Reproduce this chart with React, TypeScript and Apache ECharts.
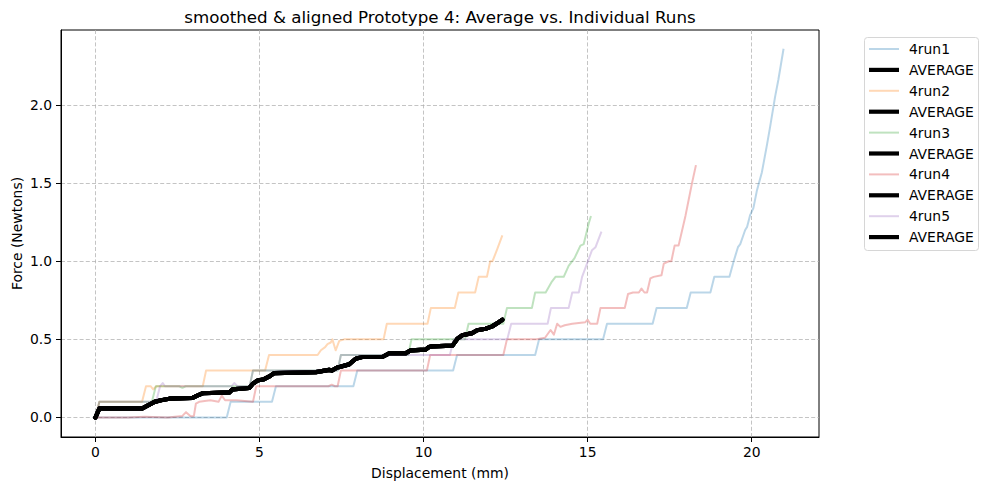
import { useEffect, useRef } from "react";
import * as echarts from "echarts";

type Pt = [number, number];

const chartTitle = "smoothed & aligned Prototype 4: Average vs. Individual Runs";
const xAxisTitle = "Displacement (mm)";
const yAxisTitle = "Force (Newtons)";

const runNames = ["4run1", "4run2", "4run3", "4run4", "4run5"];
const runColors = ["#1f77b4", "#ff7f0e", "#2ca02c", "#d62728", "#9467bd"];
const averageName = "AVERAGE";

const xTicks = [0, 5, 10, 15, 20];
const yTicks = [0, 0.5, 1.0, 1.5, 2.0];

// displacement (mm), force (N) for each run after smoothing and alignment
const run1: Pt[] = [
  [0, 0], [4.0, 0], [4.12, 0.1], [5.38, 0.1], [5.5, 0.2], [7.86, 0.2], [7.98, 0.3],
  [10.9, 0.3], [11.02, 0.4], [13.4, 0.4], [13.52, 0.5], [15.47, 0.5], [15.59, 0.6],
  [16.98, 0.6], [17.1, 0.7], [18.02, 0.7], [18.14, 0.8], [18.74, 0.8], [18.86, 0.9],
  [19.32, 0.9], [19.45, 1.0], [19.58, 1.09], [19.65, 1.11], [19.8, 1.2], [19.86, 1.22],
  [19.95, 1.295], [20.05, 1.34], [20.16, 1.455], [20.31, 1.57], [20.46, 1.74],
  [20.56, 1.86], [20.71, 2.05], [20.81, 2.16], [20.97, 2.36],
];

const run2: Pt[] = [
  [0, 0], [0.12, 0.1], [1.42, 0.1], [1.54, 0.2], [1.68, 0.2], [1.76, 0.18], [1.86, 0.2],
  [3.27, 0.2], [3.37, 0.3], [5.17, 0.3], [5.29, 0.4], [6.77, 0.4], [6.87, 0.43],
  [7.0, 0.45], [7.07, 0.47], [7.17, 0.48], [7.22, 0.5], [7.32, 0.43], [7.43, 0.49],
  [7.58, 0.5], [8.78, 0.5], [8.88, 0.6], [10.12, 0.6], [10.22, 0.7], [10.95, 0.7],
  [11.06, 0.8], [11.57, 0.8], [11.68, 0.9], [11.93, 0.9], [12.03, 1.0], [12.1, 1.0],
  [12.25, 1.08], [12.4, 1.165],
];

const run3: Pt[] = [
  [0, 0], [0.12, 0.1], [1.72, 0.1], [1.84, 0.2], [2.55, 0.2], [2.65, 0.19], [2.75, 0.2],
  [4.7, 0.2], [4.8, 0.3], [7.38, 0.3], [7.48, 0.4], [9.53, 0.4], [9.63, 0.5],
  [11.26, 0.5], [11.37, 0.6], [12.43, 0.6], [12.54, 0.7], [13.3, 0.7], [13.4, 0.8],
  [13.72, 0.8], [13.91, 0.87], [14.02, 0.9], [14.27, 0.9], [14.42, 0.97], [14.6, 1.02],
  [14.78, 1.1], [14.88, 1.11], [15.03, 1.24], [15.1, 1.29],
];

const run4: Pt[] = [
  [0, 0], [1.0, 0], [1.5, 0.005], [2.2, 0], [2.65, 0.01], [2.76, 0.034], [2.9, 0.008],
  [3.0, 0.01], [3.06, 0.088], [3.16, 0.1], [3.5, 0.11], [3.75, 0.1], [3.85, 0.14],
  [3.95, 0.11], [4.3, 0.11], [4.8, 0.1], [4.9, 0.2], [7.1, 0.2], [7.2, 0.21],
  [7.3, 0.2], [7.38, 0.2], [7.48, 0.3], [10.1, 0.3], [10.2, 0.4], [12.43, 0.4],
  [12.54, 0.5], [13.45, 0.5], [13.7, 0.51], [13.87, 0.56], [13.97, 0.53], [14.07, 0.6],
  [14.17, 0.58], [14.3, 0.59], [14.53, 0.6], [14.93, 0.61], [15.0, 0.625], [15.08, 0.6],
  [15.29, 0.6], [15.39, 0.7], [16.13, 0.7], [16.23, 0.79], [16.38, 0.8], [16.56, 0.8],
  [16.64, 0.825], [16.73, 0.8], [16.81, 0.8], [16.91, 0.89], [17.01, 0.9], [17.25, 0.91],
  [17.32, 0.985], [17.47, 1.0], [17.55, 1.0], [17.65, 1.1], [17.77, 1.1], [17.98, 1.29],
  [18.08, 1.395], [18.18, 1.5], [18.3, 1.615],
];

const run5: Pt[] = [
  [0, 0], [0.12, 0.1], [1.85, 0.1], [1.92, 0.16], [1.97, 0.2], [2.05, 0.22], [2.12, 0.2],
  [4.15, 0.2], [4.23, 0.22], [4.33, 0.2], [4.7, 0.2], [4.8, 0.3], [7.38, 0.3],
  [7.48, 0.4], [10.8, 0.4], [10.92, 0.5], [12.55, 0.5], [12.67, 0.6], [13.78, 0.6],
  [13.88, 0.7], [14.42, 0.7], [14.53, 0.8], [14.73, 0.8], [14.83, 0.9], [14.98, 0.985],
  [15.13, 1.07], [15.24, 1.09], [15.42, 1.19],
];

const average: Pt[] = [
  [0, 0], [0.12, 0.058], [1.43, 0.058], [1.6, 0.077], [1.8, 0.1], [2.0, 0.11],
  [2.25, 0.12], [2.96, 0.125], [3.1, 0.14], [3.27, 0.155], [4.08, 0.16], [4.18, 0.18],
  [4.69, 0.19], [4.79, 0.215], [4.94, 0.237], [5.14, 0.245], [5.3, 0.263], [5.45, 0.284],
  [6.72, 0.29], [7.12, 0.305], [7.2, 0.3], [7.38, 0.32], [7.73, 0.34], [7.93, 0.376],
  [8.13, 0.387], [8.74, 0.387], [8.95, 0.41], [9.45, 0.41], [9.61, 0.43], [10.06, 0.434],
  [10.16, 0.45], [10.26, 0.455], [10.88, 0.46], [11.03, 0.504], [11.18, 0.526],
  [11.48, 0.54], [11.63, 0.558], [11.89, 0.568], [12.09, 0.583], [12.29, 0.61],
  [12.4, 0.626],
];

const runs: Pt[][] = [run1, run2, run3, run4, run5];

const FONT = "DejaVu Sans";
const LABEL_SIZE = 13.9;
const TITLE_SIZE = 16.7;
const RUN_WIDTH = 2;
const RUN_OPACITY = 0.3;
const AVG_WIDTH = 4.2;

export default function App() {
  const ref = useRef<HTMLDivElement>(null);

  useEffect(() => {
    if (!ref.current) return;
    const chart = echarts.init(ref.current, undefined, { renderer: "svg" });

    const grid = { left: 61, top: 30, width: 758, height: 407 };

    // plotted in the same order as the legend: each run followed by the average
    const series: any[] = [];
    const legendEntries: { name: string; color: string; width: number; opacity: number }[] = [];
    runs.forEach((run, i) => {
      series.push({
        type: "line",
        name: runNames[i],
        data: run,
        showSymbol: false,
        symbol: "none",
        silent: true,
        lineStyle: { color: runColors[i], width: RUN_WIDTH, opacity: RUN_OPACITY, join: "round" },
      });
      series.push({
        type: "line",
        name: `${averageName}-${i + 1}`,
        data: average,
        showSymbol: false,
        symbol: "none",
        silent: true,
        lineStyle: { color: "#000", width: AVG_WIDTH, join: "round", cap: "round" },
      });
      legendEntries.push({ name: runNames[i], color: runColors[i], width: RUN_WIDTH, opacity: RUN_OPACITY });
      legendEntries.push({ name: averageName, color: "#000", width: AVG_WIDTH, opacity: 1 });
    });

    const legendX = 864;
    const legendY = 37;
    const rowGap = 20.9;
    const legendChildren: any[] = [
      {
        type: "rect",
        shape: { x: 0.5, y: 0.5, width: 114, height: 213, r: 3 },
        style: { fill: "#fff", stroke: "#d6d6d6", lineWidth: 1 },
      },
    ];
    legendEntries.forEach((e, i) => {
      const cy = 12 + i * rowGap;
      legendChildren.push({
        type: "line",
        shape: { x1: 5, y1: cy, x2: 35, y2: cy },
        style: { stroke: e.color, lineWidth: e.width, opacity: e.opacity },
      });
      legendChildren.push({
        type: "text",
        x: 45,
        y: cy,
        style: {
          text: e.name,
          fontSize: LABEL_SIZE,
          fontFamily: FONT,
          fill: "#000",
          align: "left",
          verticalAlign: "middle",
        },
      });
    });

    const splitLine = {
      show: true,
      lineStyle: { color: "rgba(176,176,176,0.75)", width: 1, type: [4, 2.2] },
    };

    chart.setOption({
      animation: false,
      backgroundColor: "#fff",
      textStyle: { fontFamily: FONT },
      grid: {
        ...grid,
        show: true,
        borderColor: "#000",
        borderWidth: 1,
        backgroundColor: "transparent",
        containLabel: false,
        outerBoundsMode: "none",
      },
      xAxis: {
        type: "value",
        min: -1.05,
        max: 22.05,
        name: xAxisTitle,
        nameLocation: "middle",
        nameGap: 29,
        nameMoveOverlap: false,
        nameTextStyle: { fontSize: LABEL_SIZE, color: "#000", fontFamily: FONT },
        axisLine: { show: true, onZero: false, lineStyle: { color: "#000", width: 1 } },
        axisTick: { show: true, length: 5, customValues: xTicks, lineStyle: { color: "#000", width: 1 } },
        axisLabel: {
          customValues: xTicks,
          margin: 8,
          fontSize: LABEL_SIZE,
          color: "#000",
          fontFamily: FONT,
          formatter: (v: number) => String(v),
        },
        splitLine,
      },
      yAxis: {
        type: "value",
        min: -0.125,
        max: 2.48,
        name: yAxisTitle,
        nameLocation: "middle",
        nameGap: 37,
        nameMoveOverlap: false,
        nameTextStyle: { fontSize: LABEL_SIZE, color: "#000", fontFamily: FONT },
        axisLine: { show: true, onZero: false, lineStyle: { color: "#000", width: 1 } },
        axisTick: { show: true, length: 5, customValues: yTicks, lineStyle: { color: "#000", width: 1 } },
        axisLabel: {
          customValues: yTicks,
          margin: 9,
          fontSize: LABEL_SIZE,
          color: "#000",
          fontFamily: FONT,
          formatter: (v: number) => v.toFixed(1),
        },
        splitLine,
      },
      series,
      graphic: [
        {
          type: "text",
          x: grid.left + grid.width / 2,
          y: 17,
          style: {
            text: chartTitle,
            fontSize: TITLE_SIZE,
            fontFamily: FONT,
            fill: "#000",
            align: "center",
            verticalAlign: "middle",
          },
        },
        { type: "group", x: legendX, y: legendY, children: legendChildren },
      ],
    });

    return () => chart.dispose();
  }, []);

  return (
    <div
      ref={ref}
      style={{ position: "absolute", left: 0, top: 0, width: 989, height: 490, background: "#fff" }}
    />
  );
}
